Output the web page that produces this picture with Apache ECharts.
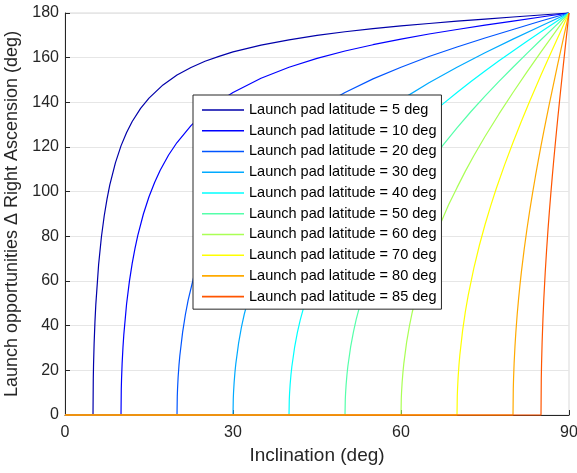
<!DOCTYPE html>
<html>
<head>
<meta charset="utf-8">
<script src="https://cdn.jsdelivr.net/npm/echarts@6/dist/echarts.min.js"></script>
<style>
html,body{margin:0;padding:0;background:#fff;}
#chart{width:577px;height:473px;}
</style>
</head>
<body>
<div id="chart"></div>
<script>
// Launch pad latitudes (deg)
const latitudes = [5, 10, 20, 30, 40, 50, 60, 70, 80, 85];
const seriesNames = latitudes.map(l => 'Launch pad latitude = ' + l + ' deg');
const xTicks = [0, 30, 60, 90];
const yTicks = [0, 20, 40, 60, 80, 100, 120, 140, 160, 180];

// Inclination (deg) and Δ right ascension (deg), per latitude
const incl5  = [0, 5, 5.05, 5.1, 5.2, 5.35, 5.5, 6, 6.5, 7, 7.5, 8, 9, 10, 11, 12, 13.5, 15, 17.5, 20, 22.5, 25, 27.5, 30, 35, 40, 45, 50, 55, 60, 65, 70, 75, 80, 85, 90];
const dra5   = [0, 0, 16.2, 22.8, 32.0, 41.8, 49.4, 67.3, 79.7, 89.1, 96.7, 103.0, 112.9, 120.5, 126.5, 131.4, 137.3, 141.9, 147.8, 152.2, 155.6, 158.4, 160.6, 162.6, 165.6, 168.0, 170.0, 171.6, 173.0, 174.2, 175.3, 176.4, 177.3, 178.2, 179.1, 180];
const incl10 = [0, 10, 10.05, 10.1, 10.2, 10.35, 10.5, 11, 11.5, 12, 12.5, 13, 14, 15, 16, 17, 18.5, 20, 22.5, 25, 27.5, 30, 35, 40, 45, 50, 55, 60, 65, 70, 75, 80, 85, 90];
const dra10  = [0, 0, 11.6, 16.3, 23.0, 30.2, 35.9, 49.8, 59.8, 67.9, 74.6, 80.4, 90.0, 97.7, 104.1, 109.6, 116.4, 122.0, 129.6, 135.6, 140.4, 144.4, 150.8, 155.7, 159.7, 163.0, 165.8, 168.3, 170.6, 172.6, 174.6, 176.4, 178.2, 180];
const incl20 = [0, 20, 20.05, 20.1, 20.2, 20.35, 20.5, 21, 21.5, 22, 23, 24, 25, 26, 27, 28.5, 30, 32.5, 35, 37.5, 40, 45, 50, 55, 60, 65, 70, 75, 80, 85, 90];
const dra20  = [0, 0, 8.4, 11.9, 16.9, 22.2, 26.4, 37.0, 45.0, 51.5, 61.9, 70.3, 77.4, 83.5, 88.8, 95.8, 101.8, 110.3, 117.4, 123.4, 128.6, 137.3, 144.4, 150.5, 155.7, 160.5, 164.8, 168.8, 172.6, 176.4, 180];
const incl30 = [0, 30, 30.05, 30.1, 30.2, 30.35, 30.5, 31, 31.5, 32, 33, 34, 35, 36.5, 38, 40, 42.5, 45, 47.5, 50, 55, 60, 65, 70, 75, 80, 85, 90];
const dra30  = [0, 0, 7.3, 10.3, 14.5, 19.2, 22.9, 32.2, 39.2, 45.0, 54.5, 62.3, 68.9, 77.4, 84.7, 93.0, 101.9, 109.5, 116.1, 122.0, 132.3, 141.1, 148.8, 155.7, 162.2, 168.3, 174.2, 180];
const incl40 = [0, 40, 40.05, 40.1, 40.2, 40.35, 40.5, 41, 41.5, 42, 43, 44, 45, 46.5, 48, 50, 52.5, 55, 57.5, 60, 62.5, 65, 67.5, 70, 72.5, 75, 77.5, 80, 82.5, 85, 87.5, 90];
const dra40  = [0, 0, 6.8, 9.6, 13.6, 18.0, 21.5, 30.3, 37.0, 42.5, 51.7, 59.3, 65.9, 74.5, 81.9, 90.5, 99.8, 108.0, 115.4, 122.0, 128.2, 133.9, 139.3, 144.4, 149.3, 154.0, 158.6, 163.0, 167.3, 171.6, 175.8, 180];
const incl50 = [0, 50, 50.05, 50.1, 50.2, 50.35, 50.5, 51, 51.5, 52, 53, 54, 55, 56.5, 58, 60, 62.5, 65, 67.5, 70, 72.5, 75, 77.5, 80, 82.5, 85, 87.5, 90];
const dra50  = [0, 0, 6.8, 9.6, 13.6, 18.0, 21.6, 30.4, 37.1, 42.8, 52.2, 60.0, 66.9, 75.9, 83.7, 93.0, 103.3, 112.5, 120.8, 128.6, 135.9, 142.8, 149.4, 155.7, 161.9, 168.0, 174.0, 180];
const incl60 = [0, 60, 60.05, 60.1, 60.2, 60.35, 60.5, 61, 61.5, 62, 63, 64, 65, 66, 67, 68.5, 70, 71.5, 73, 75, 77.5, 80, 82.5, 85, 87.5, 90];
const dra60  = [0, 0, 7.3, 10.3, 14.5, 19.2, 23.0, 32.5, 39.8, 45.9, 56.1, 64.7, 72.3, 79.1, 85.4, 94.1, 101.8, 109.2, 116.1, 124.7, 134.8, 144.4, 153.6, 162.6, 171.3, 180];
const incl70 = [0, 70, 70.05, 70.1, 70.2, 70.35, 70.5, 71, 71.5, 72, 73, 74, 75, 76, 77, 78.5, 80, 81.5, 83, 84, 85, 86, 87, 88.5, 89, 90];
const dra70  = [0, 0, 8.5, 11.9, 16.9, 22.4, 26.7, 37.8, 46.4, 53.6, 65.7, 76.0, 85.2, 93.5, 101.3, 112.0, 122.0, 131.5, 140.6, 146.4, 152.2, 157.8, 163.4, 171.7, 174.5, 180];
const incl80 = [0, 80, 80.05, 80.1, 80.2, 80.35, 80.5, 80.75, 81, 81.25, 81.5, 82, 82.5, 83, 83.5, 84, 84.5, 85, 85.5, 86, 86.5, 87, 87.5, 88, 88.5, 89, 89.5, 90];
const dra80  = [0, 0, 11.6, 16.3, 23.2, 30.7, 36.7, 45.1, 52.1, 58.4, 64.1, 74.3, 83.4, 91.7, 99.5, 106.8, 113.8, 120.5, 127.0, 133.3, 139.4, 145.4, 151.3, 157.2, 162.9, 168.6, 174.3, 180];
const incl85 = [0, 85, 85.05, 85.1, 85.2, 85.35, 85.5, 85.75, 86, 86.25, 86.5, 86.75, 87, 87.25, 87.5, 87.75, 88, 88.25, 88.5, 88.75, 89, 89.25, 89.5, 89.75, 90];
const dra85  = [0, 0, 16.3, 23.0, 32.6, 43.2, 51.8, 63.7, 73.9, 83.0, 91.3, 99.0, 106.4, 113.4, 120.1, 126.6, 133.0, 139.1, 145.2, 151.1, 157.0, 162.8, 168.5, 174.3, 180];

const inclinations = [incl5, incl10, incl20, incl30, incl40, incl50, incl60, incl70, incl80, incl85];
const deltaRA = [dra5, dra10, dra20, dra30, dra40, dra50, dra60, dra70, dra80, dra85];
const colors = ['#0000AA', '#0000FF', '#0055FF', '#00AAFF', '#00FFFF', '#55FFAA', '#AAFF55', '#FFFF00', '#FFAA00', '#FF5500'];

const FONT = "'Liberation Sans', Arial, Helvetica, sans-serif";
const TXT = '#262626';

const series = latitudes.map((lat, k) => ({
  name: seriesNames[k],
  type: 'line',
  data: inclinations[k].map((x, j) => [x, deltaRA[k][j]]),
  showSymbol: false,
  symbol: 'none',
  clip: false,
  lineStyle: { color: colors[k], width: 1.2 },
  itemStyle: { color: colors[k] },
  animation: false
}));

const chart = echarts.init(document.getElementById('chart'), null, { renderer: 'canvas' });
chart.setOption({
  animation: false,
  backgroundColor: '#ffffff',
  textStyle: { fontFamily: FONT },
  grid: {
    left: 65, right: 8, top: 13, bottom: 58,
    containLabel: false,
    outerBoundsMode: 'none',
    show: true, borderColor: '#d9d9d9', borderWidth: 1, backgroundColor: 'transparent'
  },
  xAxis: {
    type: 'value',
    min: xTicks[0], max: xTicks[xTicks.length - 1], interval: 30,
    name: 'Inclination (deg)',
    nameLocation: 'middle', nameGap: 31,
    nameTextStyle: { fontSize: 19, color: TXT, fontFamily: FONT },
    axisLine: { show: true, lineStyle: { color: TXT, width: 1 } },
    axisTick: { show: true, inside: true, length: 5, lineStyle: { color: TXT } },
    axisLabel: { fontSize: 16, color: TXT, margin: 10, fontFamily: FONT },
    splitLine: { show: false }
  },
  yAxis: {
    type: 'value',
    min: yTicks[0], max: yTicks[yTicks.length - 1], interval: 20,
    name: 'Launch opportunities \u0394 Right Ascension (deg)',
    nameLocation: 'middle', nameGap: 39,
    nameTextStyle: { fontSize: 18, color: TXT, fontFamily: FONT },
    axisLine: { show: true, lineStyle: { color: TXT, width: 1 } },
    axisTick: { show: true, inside: true, length: 5, lineStyle: { color: TXT } },
    axisLabel: { fontSize: 16, color: TXT, margin: 6, fontFamily: FONT },
    splitLine: { show: true, lineStyle: { color: '#e6e6e6', width: 1 } }
  },
  legend: {
    data: seriesNames,
    orient: 'vertical',
    left: 193, top: 95,
    padding: [7.5, 5, 5, 9],
    itemGap: 5.74,
    itemWidth: 42, itemHeight: 1.6,
    icon: 'rect',
    backgroundColor: '#ffffff',
    borderColor: '#262626', borderWidth: 1,
    textStyle: { fontSize: 14.5, lineHeight: 15, color: '#000000', fontFamily: FONT },
    selectedMode: false
  },
  series: series
});
</script>
</body>
</html>
